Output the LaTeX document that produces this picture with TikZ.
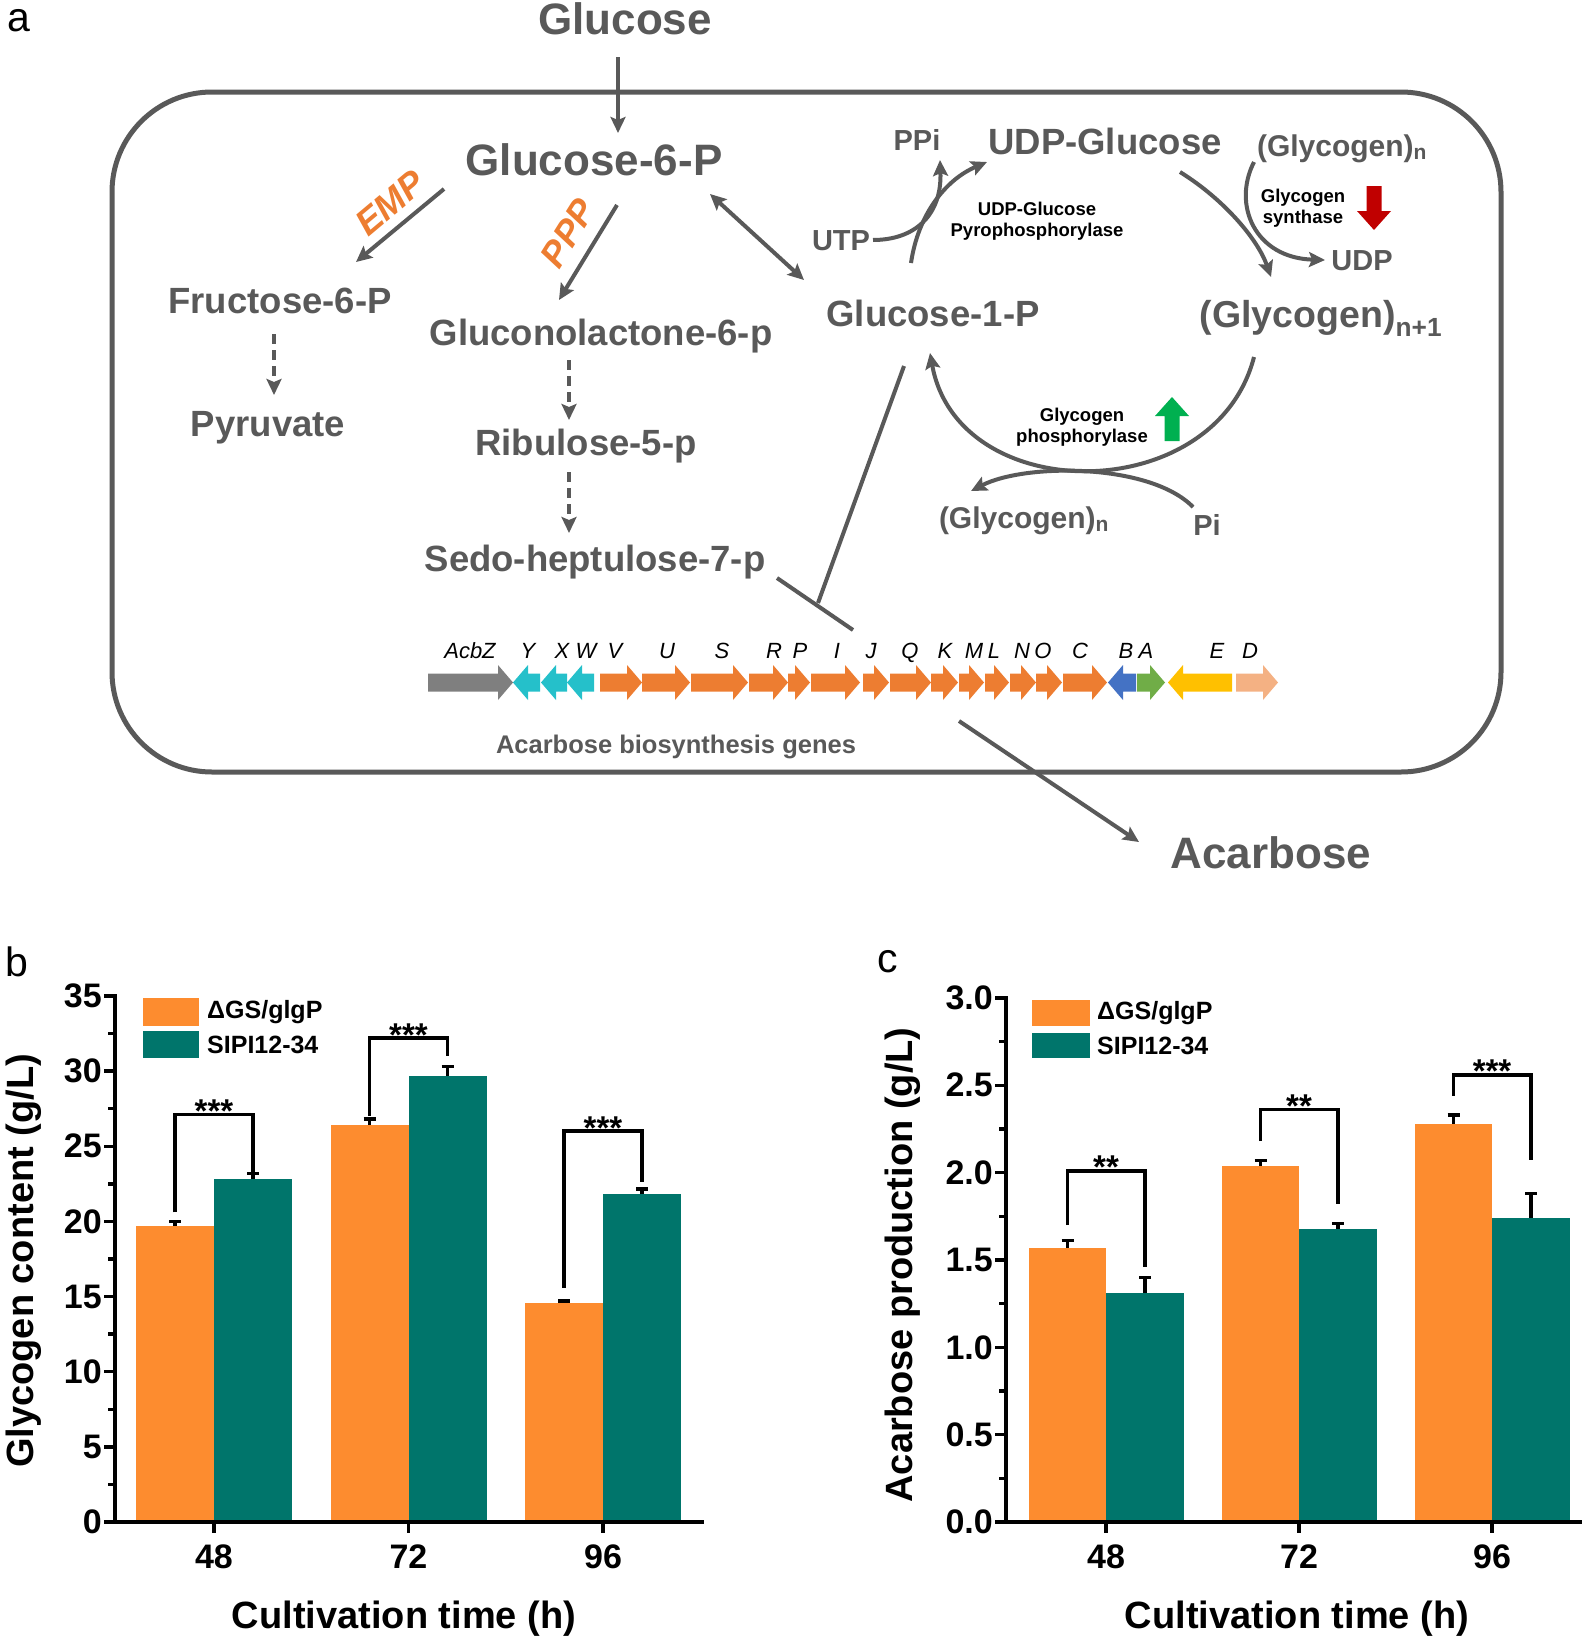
\documentclass[tikz,border=0pt]{standalone}
\usepackage{fontspec}
\setmainfont{Liberation Sans}
\usetikzlibrary{arrows.meta}

\definecolor{txtgray}{HTML}{595959}
\definecolor{pathorange}{HTML}{ED7D31}
\definecolor{barorange}{HTML}{FD8C2F}
\definecolor{barteal}{HTML}{00756B}
\definecolor{genegray}{HTML}{7F7F7F}
\definecolor{genecyan}{HTML}{25C0CA}
\definecolor{geneorange}{HTML}{ED7D31}
\definecolor{geneblue}{HTML}{4472C4}
\definecolor{genegreen}{HTML}{70AD47}
\definecolor{geneyellow}{HTML}{FFC000}
\definecolor{genepeach}{HTML}{F4B183}
\definecolor{downred}{HTML}{C00000}
\definecolor{upgreen}{HTML}{00B050}

\newcommand{\fsz}[1]{\fontsize{#1pt}{#1pt}\selectfont}

\begin{document}
\begin{tikzpicture}[x=1pt,y=-1pt,
    metab/.style={anchor=base, inner sep=0pt, text=txtgray},
    big/.style={metab, font={\fsz{44}\bfseries}},
    mid/.style={metab, font={\fsz{36.5}\bfseries}},
    small/.style={metab, font={\fsz{29}\bfseries}},
    flow/.style={draw=txtgray, line width=4pt, -{Stealth[length=16pt,width=15pt,inset=3pt]}},
    both/.style={flow, {Stealth[length=16pt,width=15pt,inset=3pt]}-{Stealth[length=16pt,width=15pt,inset=3pt]}},
    dashflow/.style={flow, dash pattern=on 10pt off 6pt},
    plain/.style={draw=txtgray, line width=4pt},
    route/.style={anchor=center, inner sep=0pt, text=pathorange, font={\fsz{36}\bfseries\itshape}},
    enz/.style={inner sep=0pt, align=center, font={\fsz{18.5}\bfseries}},
    genelab/.style={anchor=base, inner sep=0pt, font={\fsz{22}\itshape}},
    panlab/.style={anchor=base, inner sep=0pt, font=\fsz{41}},
    ticklab/.style={inner sep=0pt, font={\fsz{34}\bfseries}},
    axtitle/.style={anchor=base, inner sep=0pt, font={\fsz{38}\bfseries}},
    legtext/.style={anchor=west, inner sep=0pt, font={\fsz{25}\bfseries}},
    stars/.style={anchor=base, inner sep=0pt, yshift=-8pt, font={\fsz{33}\bfseries}},
    axisline/.style={line width=3.5pt, line cap=rect},
    errbar/.style={line width=3.5pt},
    bracket/.style={line width=3.5pt}
]
\useasboundingbox (0,0) rectangle (1592,1638);

% ---------------- panel a ----------------
\node[panlab] (lab-a) at (19,31) {a};

% cell
\draw[txtgray, line width=5pt, rounded corners=100pt] (112,92) rectangle (1501,772);

% metabolites
\node[big] (glc) at (625,34) {Glucose};
\node[big] (g6p) at (594,175) {Glucose-6-P};
\node[mid] (f6p) at (280,313) {Fructose-6-P};
\node[mid] (pyr) at (268,436) {Pyruvate};
\node[mid] (gl6p) at (601,345) {Gluconolactone-6-p};
\node[mid] (ru5p) at (586,455) {Ribulose-5-p};
\node[mid] (s7p) at (595,571) {Sedo-heptulose-7-p};
\node[mid] (g1p) at (933,326) {Glucose-1-P};
\node[mid] (udpg) at (1105,154) {UDP-Glucose};
\node[metab, font={\fsz{37.5}\bfseries}] (glyn1) at (1321,327) {(Glycogen)\textsubscript{n+1}};
\node[small] (ppi) at (917,150) {PPi};
\node[small] (utp) at (841,250) {UTP};
\node[small] (udp) at (1362,270) {UDP};
\node[small] (pi) at (1207,535) {Pi};
\node[metab, font={\fsz{30}\bfseries}] (glyn) at (1342,156) {(Glycogen)\textsubscript{n}};
\node[metab, font={\fsz{30}\bfseries}] (glynb) at (1024,528) {(Glycogen)\textsubscript{n}};
\node[big] (acb) at (1271,868) {Acarbose};

% routes
\node[route, rotate=40] (emp) at (390,203) {EMP};
\node[route, rotate=58] (ppp) at (568,233) {PPP};

% enzymes
\node[enz] (ugp) at (1037,221) {UDP-Glucose\\[2.5pt]Pyrophosphorylase};
\node[enz] (gs) at (1303,208) {Glycogen\\[2.5pt]synthase};
\node[enz] (gp) at (1082,427) {Glycogen\\[2.5pt]phosphorylase};

% up / down marks
\fill[downred] (1366.5,186) -- (1381.5,186) -- (1381.5,211) -- (1391,211) -- (1374,230)
  -- (1357,211) -- (1366.5,211) -- cycle;
\fill[upgreen] (1164.5,441) -- (1179.5,441) -- (1179.5,416) -- (1189,416) -- (1172,397)
  -- (1155,416) -- (1164.5,416) -- cycle;

% connector ends
\coordinate (glc-out) at (618,57);   \coordinate (g6p-in) at (618,133);
\coordinate (g6p-emp) at (444,189);  \coordinate (f6p-in) at (356,262);
\coordinate (g6p-ppp) at (617,205);  \coordinate (gl6p-in) at (559,300);
\coordinate (g6p-g1p) at (710,194);  \coordinate (g1p-g6p) at (804,280);
\coordinate (f6p-out) at (274,334);  \coordinate (pyr-in) at (274,395);
\coordinate (gl6p-out) at (569,360); \coordinate (ru5p-in) at (569,420);
\coordinate (ru5p-out) at (569,472); \coordinate (s7p-in) at (569,533);
\coordinate (g1p-up) at (911,263);   \coordinate (udpg-in) at (987,162);
\coordinate (utp-out) at (873,240);  \coordinate (ppi-in) at (940,160);
\coordinate (udpg-out) at (1180,172); \coordinate (glyn1-in) at (1271,277);
\coordinate (glyn-out) at (1254,162); \coordinate (udp-in) at (1325,260);
\coordinate (glyn1-out) at (1254,357); \coordinate (g1p-in) at (930,353);
\coordinate (pi-out) at (1193,507);  \coordinate (glynb-in) at (971,491);
\coordinate (g1p-down) at (904,366); \coordinate (cluster-top) at (818,603);
\coordinate (s7p-out) at (777,578);  \coordinate (s7p-end) at (853,630);
\coordinate (cluster-out) at (959,721); \coordinate (acb-in) at (1139,842);

% central pathways
\draw[flow] (glc-out) -- (g6p-in);
\draw[flow] (g6p-emp) -- (f6p-in);
\draw[flow] (g6p-ppp) -- (gl6p-in);
\draw[both] (g6p-g1p) -- (g1p-g6p);
\draw[dashflow] (f6p-out) -- (pyr-in);
\draw[dashflow] (gl6p-out) -- (ru5p-in);
\draw[dashflow] (ru5p-out) -- (s7p-in);

% glycogen cycle
\draw[flow] (g1p-up) .. controls (918,215) and (945,180) .. (udpg-in);
\draw[flow] (utp-out) .. controls (915,240) and (942,215) .. (ppi-in);
\draw[flow] (udpg-out) .. controls (1225,200) and (1258,240) .. (glyn1-in);
\draw[flow] (glyn-out) .. controls (1232,205) and (1255,258) .. (udp-in);
\draw[flow] (glyn1-out) .. controls (1215,508) and (958,508) .. (g1p-in);
\draw[flow] (pi-out) .. controls (1150,463) and (1025,463) .. (glynb-in);

% precursors to the gene cluster
\draw[plain] (g1p-down) -- (cluster-top);
\draw[plain] (s7p-out) -- (s7p-end);
\draw[flow] (cluster-out) -- (acb-in);

% gene cluster, forward genes
\foreach \a/\b/\col in {428/513/genegray, 600/642/geneorange, 642/690/geneorange,
    691/748/geneorange, 749/788/geneorange, 788/810/geneorange, 811/860/geneorange,
    863/889/geneorange, 890/931/geneorange, 931/958/geneorange, 959/984/geneorange,
    985/1009/geneorange, 1010/1036/geneorange, 1036/1062/geneorange,
    1063/1107/geneorange, 1137/1165/genegreen, 1236/1278/genepeach} {
  \fill[\col] (\a,673.5) -- (\b-15,673.5) -- (\b-15,665) -- (\b,682.5) -- (\b-15,700)
    -- (\b-15,691.5) -- (\a,691.5) -- cycle;
}
% gene cluster, reverse genes
\foreach \a/\b/\col in {513/540/genecyan, 541/567/genecyan, 567/594/genecyan,
    1108/1136/geneblue, 1168/1232/geneyellow} {
  \fill[\col] (\b,673.5) -- (\a+15,673.5) -- (\a+15,665) -- (\a,682.5) -- (\a+15,700)
    -- (\a+15,691.5) -- (\b,691.5) -- cycle;
}
\foreach \x/\g in {470/AcbZ, 528/Y, 562/X, 586/W, 615/V, 667/U, 722/S, 774/R, 800/P,
    837/I, 871/J, 910/Q, 945/K, 974/M, 994/L, 1022/N, 1043/O, 1080/C, 1126/B, 1146/A,
    1217/E, 1250/D} {
  \node[genelab] (gene-\g) at (\x,658) {\g};
}
\node[metab, font={\fsz{25.5}\bfseries}] (genes) at (676,753) {Acarbose biosynthesis genes};

% ---------------- panel b ----------------
\node[panlab] (lab-b) at (17,976) {b};
\begin{scope}[shift={(0pt,-1522pt)}, y=15.03pt]
  % bars
  \foreach \g/\vo/\eo/\vt/\et in {214/19.7/0.3/22.8/0.4, 408.5/26.4/0.4/29.7/0.6,
      603/14.6/0.12/21.8/0.35} {
    \fill[barorange] (\g-78,0) rectangle (\g,\vo);
    \fill[barteal] (\g,0) rectangle (\g+78,\vt);
    \draw[errbar] (\g-39,\vo) -- (\g-39,\vo+\eo) (\g-45,\vo+\eo) -- (\g-33,\vo+\eo);
    \draw[errbar] (\g+39,\vt) -- (\g+39,\vt+\et) (\g+33,\vt+\et) -- (\g+45,\vt+\et);
  }
  % significance
  \foreach \g/\l/\r/\t/\s [count=\k] in {214/20.6/23.3/27.1/***, 408.5/27.0/31.0/32.2/***,
      603/15.6/22.6/26.0/***} {
    \draw[bracket] (\g-39,\l) |- (\g+39,\t) -- (\g+39,\r);
    \node[stars] (b-star\k) at (\g,\t) {\s};
  }
  % axes
  \draw[axisline] (115,35) -- (115,0) -- (702,0);
  \foreach \v [count=\k] in {0,5,...,35} {
    \draw[axisline] (115,\v) -- ++(-9pt,0pt);
    \node[ticklab, anchor=east] (b-y\k) at (102,\v) {\v};
  }
  \foreach \v in {2.5,7.5,...,32.5} \draw[axisline] (115,\v) -- ++(-5pt,0pt);
  \foreach \g/\lab in {214/48, 408.5/72, 603/96} {
    \draw[axisline] (\g,0) -- ++(0pt,-9pt);
    \node[ticklab, yshift=-35pt] (b-x\lab) at (\g,0) {\lab};
  }
\end{scope}
% legend
\fill[barorange] (143,998) rectangle (199,1026);
\fill[barteal] (143,1031) rectangle (199,1058);
\node[legtext] (b-leg1) at (207,1012) {ΔGS/glgP};
\node[legtext] (b-leg2) at (207,1045) {SIPI12-34};
\node[axtitle] (b-xt) at (404,1628) {Cultivation time (h)};
\node[axtitle, rotate=90] (b-yt) at (33,1261) {Glycogen content (g/L)};

% ---------------- panel c ----------------
\node[panlab] (lab-c) at (888,972) {c};
\begin{scope}[shift={(0pt,-1522pt)}, y=174.7pt]
  % bars
  \foreach \g/\vo/\eo/\vt/\et in {1106/1.57/0.04/1.31/0.09, 1299/2.04/0.03/1.68/0.03,
      1492/2.28/0.05/1.74/0.14} {
    \fill[barorange] (\g-77,0) rectangle (\g,\vo);
    \fill[barteal] (\g,0) rectangle (\g+78,\vt);
    \draw[errbar] (\g-38.5,\vo) -- (\g-38.5,\vo+\eo) (\g-44.5,\vo+\eo) -- (\g-32.5,\vo+\eo);
    \draw[errbar] (\g+39,\vt) -- (\g+39,\vt+\et) (\g+33,\vt+\et) -- (\g+45,\vt+\et);
  }
  % significance
  \foreach \g/\l/\r/\t/\s [count=\k] in {1106/1.70/1.46/2.01/**, 1299/2.18/1.82/2.36/**,
      1492/2.44/2.07/2.56/***} {
    \draw[bracket] (\g-38.5,\l) |- (\g+39,\t) -- (\g+39,\r);
    \node[stars] (c-star\k) at (\g,\t) {\s};
  }
  % axes
  \draw[axisline] (1006,3) -- (1006,0) -- (1580,0);
  \foreach \v/\lab [count=\k] in {0/0.0, 0.5/0.5, 1/1.0, 1.5/1.5, 2/2.0, 2.5/2.5, 3/3.0} {
    \draw[axisline] (1006,\v) -- ++(-9pt,0pt);
    \node[ticklab, anchor=east] (c-y\k) at (993,\v) {\lab};
  }
  \foreach \v in {0.25,0.75,...,2.75} \draw[axisline] (1006,\v) -- ++(-5pt,0pt);
  \foreach \g/\lab in {1106/48, 1299/72, 1492/96} {
    \draw[axisline] (\g,0) -- ++(0pt,-9pt);
    \node[ticklab, yshift=-35pt] (c-x\lab) at (\g,0) {\lab};
  }
\end{scope}
% legend
\fill[barorange] (1032,1000) rectangle (1090,1026);
\fill[barteal] (1032,1033) rectangle (1090,1058);
\node[legtext] (c-leg1) at (1097,1013) {ΔGS/glgP};
\node[legtext] (c-leg2) at (1097,1046) {SIPI12-34};
\node[axtitle] (c-xt) at (1297,1628) {Cultivation time (h)};
\node[axtitle, rotate=90] (c-yt) at (912,1265) {Acarbose production (g/L)};
\end{tikzpicture}
\end{document}
